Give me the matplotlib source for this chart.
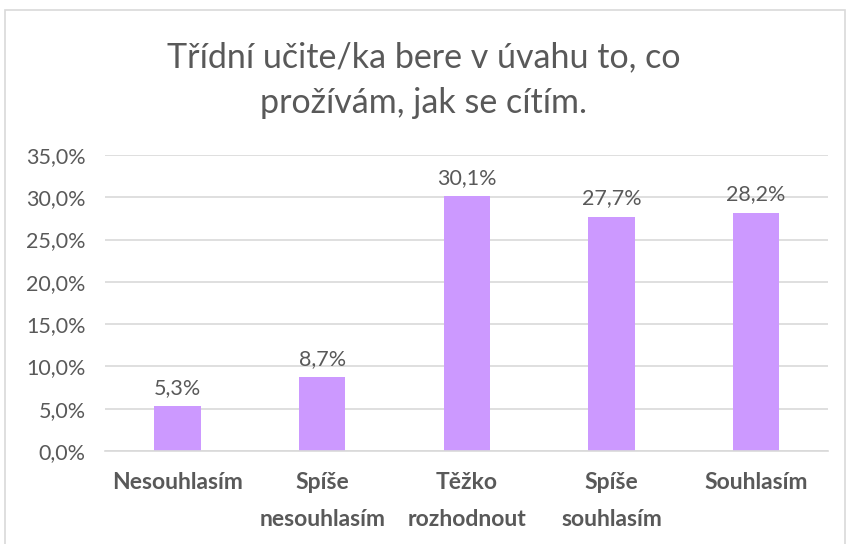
import matplotlib.pyplot as plt
from matplotlib.patches import Rectangle

plt.rcParams['font.family'] = ['Lato', 'DejaVu Sans']

categories = ['Nesouhlasím', 'Spíše\nnesouhlasím', 'Těžko\nrozhodnout', 'Spíše\nsouhlasím', 'Souhlasím']
values = [5.3, 8.7, 30.1, 27.7, 28.2]
yticks = [0, 5, 10, 15, 20, 25, 30, 35]
title = 'Třídní učite/ka bere v úvahu to, co\nprožívám, jak se cítím.'

grey = '#595959'
fig = plt.figure(figsize=(8.48, 5.44), dpi=100)
fig.patches.append(Rectangle((0.006, -0.01), 0.99, 0.992, transform=fig.transFigure,
                             fill=False, edgecolor='#d9d9d9', linewidth=1.2))
ax = fig.add_axes([0.124, 0.171, 0.853, 0.544])

x = range(len(categories))
ax.bar(x, values, width=0.32, color='#cc99ff', zorder=2)
for xi, v in zip(x, values):
    ax.text(xi, v + 1.0, '{:.1f}%'.format(v).replace('.', ','), ha='center', va='bottom',
            fontsize=15.5, color=grey)

ax.set_ylim(0, 35)
ax.set_xlim(-0.5, 4.5)
ax.set_yticks(yticks)
ax.set_yticklabels(['{:.1f}%'.format(t).replace('.', ',') for t in yticks], fontsize=15.5, color=grey)
ax.set_xticks(list(x))
ax.set_xticklabels(categories, fontsize=16.5, fontweight='bold', color=grey, linespacing=1.95)
ax.grid(axis='y', color='#d9d9d9', linewidth=1.2, zorder=0)
for s in ['top', 'right', 'left']:
    ax.spines[s].set_visible(False)
ax.spines['bottom'].set_color('#d9d9d9')
ax.spines['bottom'].set_linewidth(1.2)
ax.tick_params(length=0)
ax.tick_params(axis='x', pad=15)
ax.tick_params(axis='y', pad=14)

fig.text(0.5, 0.853, title, ha='center', va='center', fontsize=24.5, color=grey, linespacing=1.52)

fig.savefig('out.png')
